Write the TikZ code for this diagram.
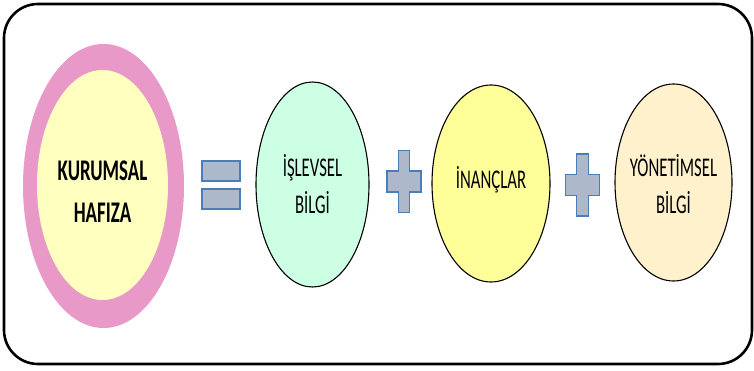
\documentclass[tikz,border=0pt]{standalone}
\usepackage{fontspec}
\usetikzlibrary{shapes.geometric}
\newfontfamily\ovaltext[FakeStretch=0.62]{Carlito}
\newfontfamily\ovalbold[FakeStretch=0.63]{Carlito Bold}
\definecolor{rimpink}{HTML}{E899C7}
\definecolor{coreyellow}{HTML}{FFFFC0}
\definecolor{mint}{HTML}{CCFFE4}
\definecolor{lemon}{HTML}{FFFF99}
\definecolor{cream}{HTML}{FFF1CC}
\definecolor{symfill}{HTML}{ADB9CA}
\definecolor{symedge}{HTML}{4A7EBB}
\tikzset{
  frame/.style={draw=black, line width=2.6pt, rounded corners=34pt},
  oval/.style={ellipse, draw=black, line width=1.1pt, inner sep=0pt},
  lbl/.style={align=center, text=black, font=\ovaltext\fontsize{27}{37}\selectfont},
  lblbold/.style={align=center, text=black, font=\ovalbold\fontsize{30}{42}\selectfont},
  symbol/.style={fill=symfill, draw=symedge, line width=1.3pt},
  plussign/.pic={
    \path[symbol] (-5.75,-31) -- (5.75,-31) -- (5.75,-10.5) -- (17,-10.5)
      -- (17,10.5) -- (5.75,10.5) -- (5.75,31) -- (-5.75,31) -- (-5.75,10.5)
      -- (-17,10.5) -- (-17,-10.5) -- (-5.75,-10.5) -- cycle;
  }
}
\begin{document}
\begin{tikzpicture}[x=1pt, y=-1pt]
\useasboundingbox (0,0) rectangle (754,371);
% outer frame
\draw[frame] (4,4) rectangle (752,364);
% institutional memory: pink rim around a yellow core
\node[ellipse, fill=rimpink, minimum width=161pt, minimum height=284pt, inner sep=0pt] (rim) at (103.5,186) {};
\node[ellipse, fill=coreyellow, minimum width=131pt, minimum height=230pt, inner sep=0pt] (core) at (102.5,185) {};
\node[lblbold] (coretext) at ([yshift=-7pt]core.center) {KURUMSAL\\HAFIZA};
% equals sign
\node[symbol, rectangle, minimum width=38pt, minimum height=20pt, inner sep=0pt] (eqtop) at (221,171) {};
\node[symbol, rectangle, minimum width=38pt, minimum height=20pt, inner sep=0pt] (eqbot) at (221,199) {};
% components
\node[oval, fill=mint, minimum width=113pt, minimum height=205pt] (islevsel) at (312.5,184.5) {};
\node[lbl] (islevseltext) at (islevsel.center) {İŞLEVSEL\\BİLGİ};
\pic (plusa) at (404,181.5) {plussign};
\node[oval, fill=lemon, minimum width=118pt, minimum height=197pt] (inanclar) at (491,183.5) {};
\node[lbl] (inanclartext) at ([yshift=4pt]inanclar.center) {İNANÇLAR};
\pic (plusb) at (582.5,185) {plussign};
\node[oval, fill=cream, minimum width=117pt, minimum height=197pt] (yonetim) at (673.5,182.5) {};
\node[lbl] (yonetimtext) at ([yshift=-2pt]yonetim.center) {YÖNETİMSEL\\BİLGİ};
\end{tikzpicture}
\end{document}
